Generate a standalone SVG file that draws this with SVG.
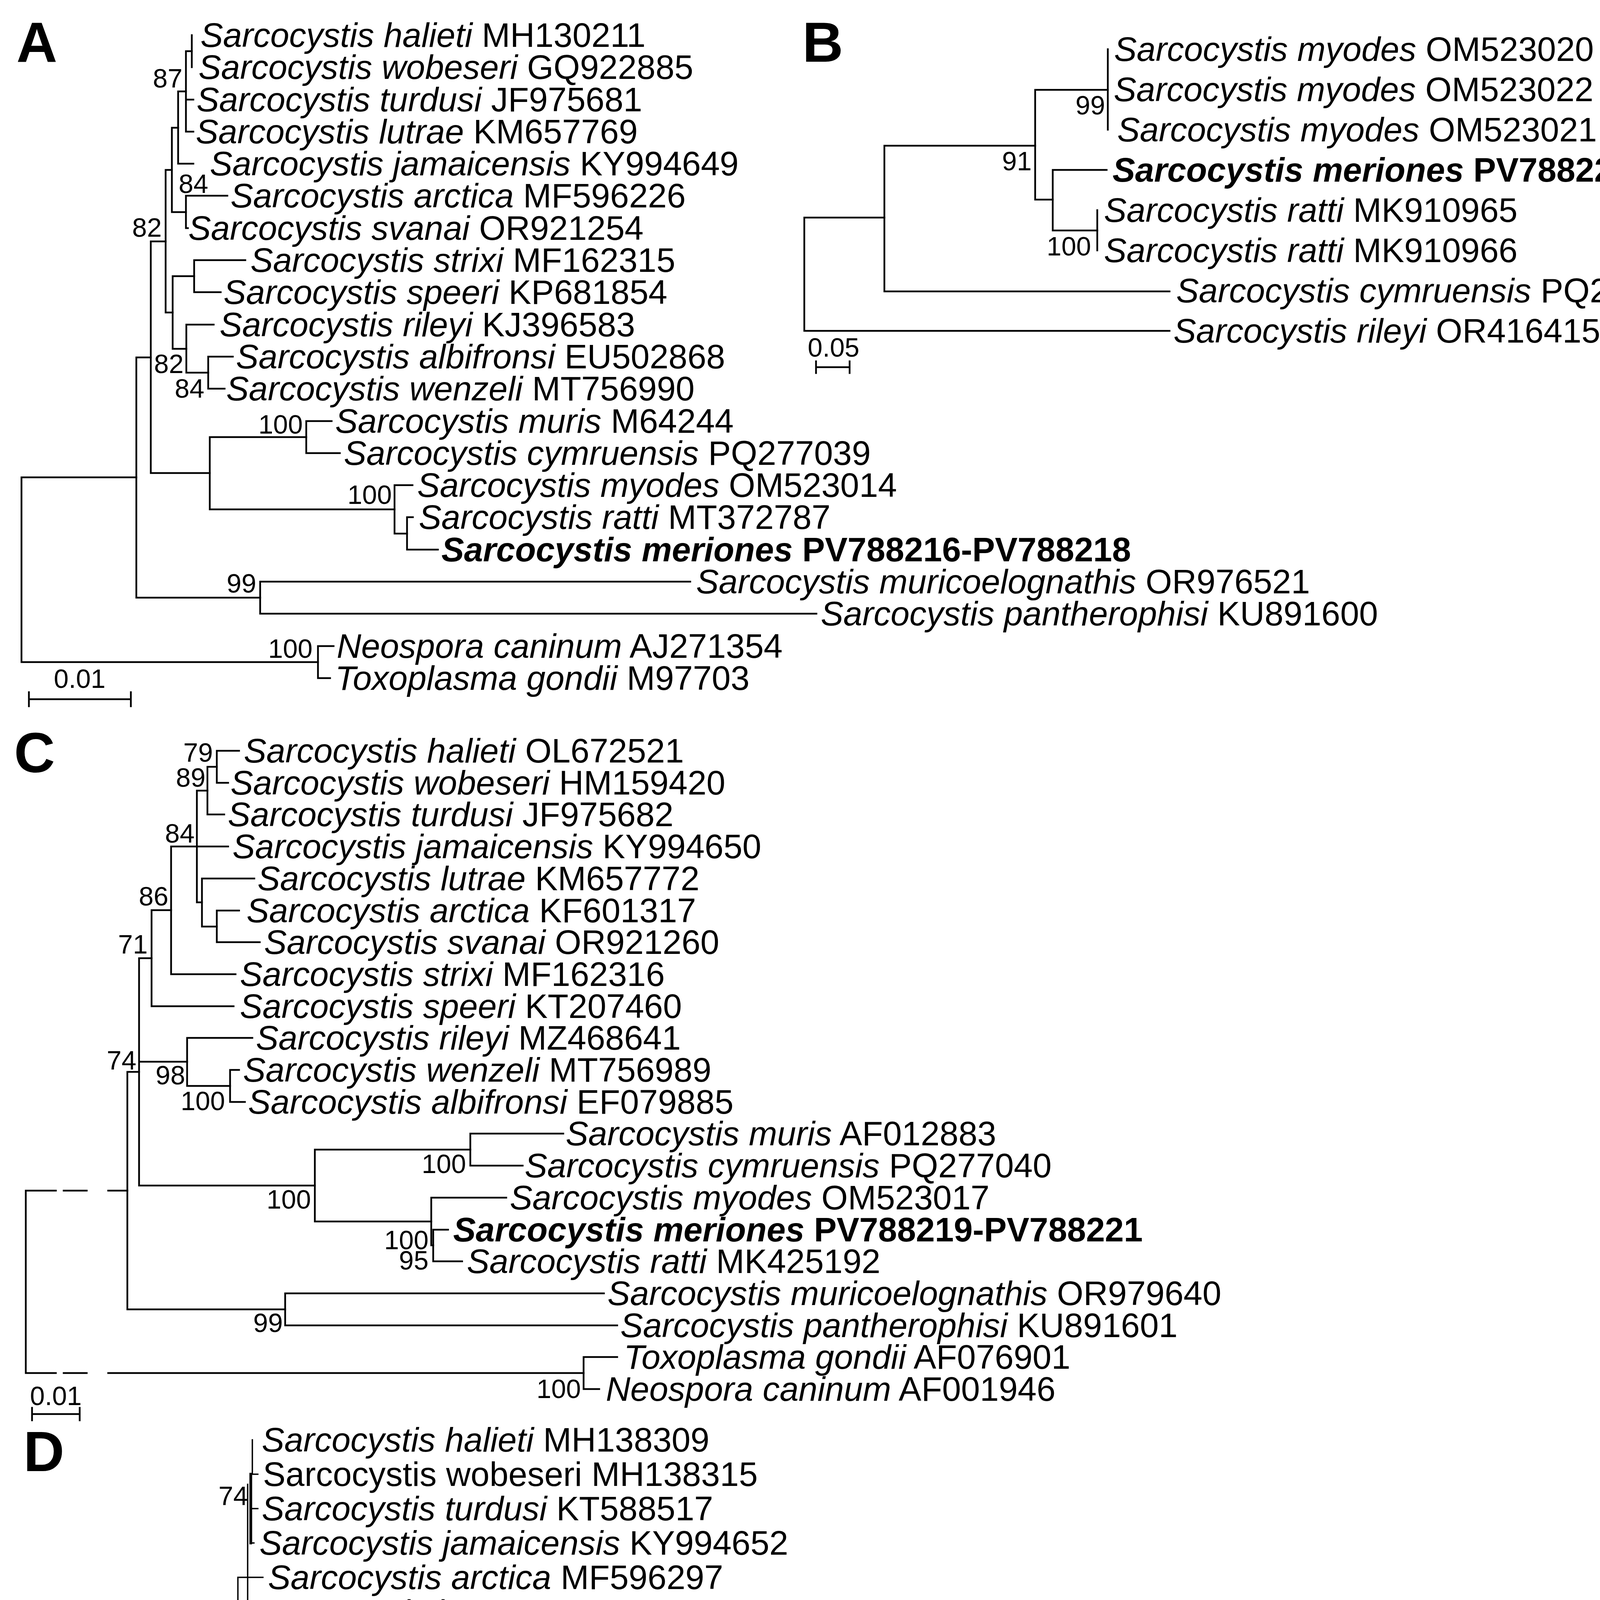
<svg xmlns="http://www.w3.org/2000/svg" width="4407" height="5431" viewBox="0 0 4407 5431">
<style>
text{font-family:"Liberation Sans",Arial,sans-serif;fill:#000}
.t{font-size:87px}
.i{font-style:italic}
.b{font-weight:bold}
.l{font-size:68px;text-anchor:end}
.s{font-size:68px;text-anchor:middle}
.p{font-size:145px;font-weight:bold}
.br path{stroke:#000;stroke-width:4.5;fill:none;stroke-linecap:square}
.brd path{stroke:#000;stroke-width:3.5;fill:none;stroke-linecap:square}
.brd path.k{stroke-width:7}
</style>
<rect width="4407" height="5431" fill="#fff"/>

<!-- ================= PANEL A ================= -->
<g id="panel-A">
<text class="p" x="42" y="158">A</text>
<g id="A-connectors" class="br">
<path d="M491,90 V172"/>
<path d="M476,131 V337 M476,131 H491 M476,255 H495 M476,337 H495"/>
<path d="M456,234 V419 M456,234 H476 M456,419 H495"/>
<path d="M476,501 V584 M476,501 H582 M476,584 H481"/>
<path d="M440,327 V543 M440,327 H456 M440,543 H476"/>
<path d="M497,666 V748 M497,666 H628 M497,748 H565"/>
<path d="M533,913 V995 M533,913 H596 M533,995 H575"/>
<path d="M477,831 V954 M477,831 H547 M477,954 H533"/>
<path d="M442,707 V893 M442,707 H497 M442,893 H477"/>
<path d="M424,435 V800 M424,435 H440 M424,800 H442"/>
<path d="M784,1078 V1160 M784,1078 H849 M784,1160 H870"/>
<path d="M1042,1324 V1407 M1042,1324 H1057 M1042,1407 H1121"/>
<path d="M1010,1242 V1366 M1010,1242 H1056 M1010,1366 H1042"/>
<path d="M537,1119 V1304 M537,1119 H784 M537,1304 H1010"/>
<path d="M386,618 V1211 M386,618 H424 M386,1211 H537"/>
<path d="M666,1489 V1571 M666,1489 H1767 M666,1571 H2090"/>
<path d="M349,915 V1530 M349,915 H386 M349,1530 H666"/>
<path d="M814,1654 V1736 M814,1654 H854 M814,1736 H845"/>
<path d="M55,1222 V1695 M55,1222 H349 M55,1695 H814"/>
<path d="M74,1790 H335 M74,1772 V1808 M335,1772 V1808"/>
</g>
<g id="A-taxa" class="t">
<g id="A-halieti"><text x="513" y="120"><tspan class="i">Sarcocystis halieti</tspan> MH130211</text></g>
<g id="A-wobeseri"><text x="508" y="202"><tspan class="i">Sarcocystis wobeseri</tspan> GQ922885</text></g>
<g id="A-turdusi"><text x="503" y="285"><tspan class="i">Sarcocystis turdusi</tspan> JF975681</text></g>
<g id="A-lutrae"><text x="501" y="367"><tspan class="i">Sarcocystis lutrae</tspan> KM657769</text></g>
<g id="A-jamaicensis"><text x="537" y="449"><tspan class="i">Sarcocystis jamaicensis</tspan> KY994649</text></g>
<g id="A-arctica"><text x="590" y="531"><tspan class="i">Sarcocystis arctica</tspan> MF596226</text></g>
<g id="A-svanai"><text x="482" y="614"><tspan class="i">Sarcocystis svanai</tspan> OR921254</text></g>
<g id="A-strixi"><text x="641" y="696"><tspan class="i">Sarcocystis strixi</tspan> MF162315</text></g>
<g id="A-speeri"><text x="572" y="778"><tspan class="i">Sarcocystis speeri</tspan> KP681854</text></g>
<g id="A-rileyi"><text x="562" y="861"><tspan class="i">Sarcocystis rileyi</tspan> KJ396583</text></g>
<g id="A-albifronsi"><text x="604" y="943"><tspan class="i">Sarcocystis albifronsi</tspan> EU502868</text></g>
<g id="A-wenzeli"><text x="579" y="1025"><tspan class="i">Sarcocystis wenzeli</tspan> MT756990</text></g>
<g id="A-muris"><text x="858" y="1108"><tspan class="i">Sarcocystis muris</tspan> M64244</text></g>
<g id="A-cymruensis"><text x="880" y="1190"><tspan class="i">Sarcocystis cymruensis</tspan> PQ277039</text></g>
<g id="A-myodes"><text x="1068" y="1272"><tspan class="i">Sarcocystis myodes</tspan> OM523014</text></g>
<g id="A-ratti"><text x="1072" y="1354"><tspan class="i">Sarcocystis ratti</tspan> MT372787</text></g>
<g id="A-meriones"><text x="1130" y="1437" class="b"><tspan class="i">Sarcocystis meriones</tspan> PV788216-PV788218</text></g>
<g id="A-muricoelognathis"><text x="1782" y="1519"><tspan class="i">Sarcocystis muricoelognathis</tspan> OR976521</text></g>
<g id="A-pantherophisi"><text x="2101" y="1601"><tspan class="i">Sarcocystis pantherophisi</tspan> KU891600</text></g>
<g id="A-neospora"><text x="862" y="1684"><tspan class="i">Neospora caninum</tspan> AJ271354</text></g>
<g id="A-toxoplasma"><text x="858" y="1766"><tspan class="i">Toxoplasma gondii</tspan> M97703</text></g>
</g>
<g id="A-support">
<text class="l" x="467" y="224">87</text>
<text class="l" x="533" y="494">84</text>
<text class="l" x="414" y="606">82</text>
<text class="l" x="470" y="955">82</text>
<text class="l" x="523" y="1018">84</text>
<text class="l" x="775" y="1110">100</text>
<text class="l" x="1003" y="1290">100</text>
<text class="l" x="656" y="1517">99</text>
<text class="l" x="800" y="1684">100</text>
<text class="s" x="204" y="1761">0.01</text>
</g>
</g>

<!-- ================= PANEL B ================= -->
<g id="panel-B">
<text class="p" x="2054" y="158">B</text>
<g id="B-connectors" class="br">
<path d="M2059,557 V847 M2059,557 H2264 M2059,847 H2994"/>
<path d="M2264,373 V746 M2264,373 H2650 M2264,746 H2994"/>
<path d="M2650,230 V511 M2650,230 H2836 M2650,511 H2695"/>
<path d="M2836,126 V332"/>
<path d="M2695,435 V590 M2695,435 H2833 M2695,590 H2809"/>
<path d="M2809,538 V641"/>
<path d="M2089,940 H2175 M2089,925 V955 M2175,925 V955"/>
</g>
<g id="B-taxa" class="t">
<g id="B-myodes1"><text x="2852" y="156"><tspan class="i">Sarcocystis myodes</tspan> OM523020</text></g>
<g id="B-myodes2"><text x="2851" y="259"><tspan class="i">Sarcocystis myodes</tspan> OM523022</text></g>
<g id="B-myodes3"><text x="2860" y="362"><tspan class="i">Sarcocystis myodes</tspan> OM523021</text></g>
<g id="B-meriones"><text x="2848" y="465" class="b"><tspan class="i">Sarcocystis meriones</tspan> PV788222</text></g>
<g id="B-ratti1"><text x="2826" y="568"><tspan class="i">Sarcocystis ratti</tspan> MK910965</text></g>
<g id="B-ratti2"><text x="2826" y="671"><tspan class="i">Sarcocystis ratti</tspan> MK910966</text></g>
<g id="B-cymruensis"><text x="3011" y="774"><tspan class="i">Sarcocystis cymruensis</tspan> PQ298262</text></g>
<g id="B-rileyi"><text x="3004" y="877"><tspan class="i">Sarcocystis rileyi</tspan> OR416415</text></g>
</g>
<g id="B-support">
<text class="l" x="2829" y="293">99</text>
<text class="l" x="2641" y="436">91</text>
<text class="l" x="2793" y="654">100</text>
<text class="s" x="2134" y="913">0.05</text>
</g>
</g>

<!-- ================= PANEL C ================= -->
<g id="panel-C">
<text class="p" x="36" y="1977">C</text>
<g id="C-connectors" class="br">
<path d="M555,1922 V2004 M555,1922 H612 M555,2004 H584"/>
<path d="M531,1963 V2085 M531,1963 H555 M531,2085 H574"/>
<path d="M504,2024 V2310 M504,2024 H531 M504,2167 H584 M504,2310 H517"/>
<path d="M517,2249 V2372 M517,2249 H651 M517,2372 H555"/>
<path d="M555,2331 V2412 M555,2331 H612 M555,2412 H665"/>
<path d="M438,2167 V2494 M438,2167 H504 M438,2494 H603"/>
<path d="M388,2330 V2576 M388,2330 H438 M388,2576 H598"/>
<path d="M589,2739 V2821 M589,2739 H612 M589,2821 H627"/>
<path d="M479,2657 V2780 M479,2657 H646 M479,2780 H589"/>
<path d="M1204,2902 V2984 M1204,2902 H1442 M1204,2984 H1338"/>
<path d="M1109,3148 V3229 M1109,3148 H1147 M1109,3229 H1183"/>
<path d="M1104,3066 V3188 M1104,3066 H1296 M1104,3188 H1109"/>
<path d="M806,2943 V3127 M806,2943 H1204 M806,3127 H1104"/>
<path d="M356,2453 V3035 M356,2453 H388 M356,2718 H479 M356,3035 H806"/>
<path d="M730,3311 V3393 M730,3311 H1546 M730,3393 H1580"/>
<path d="M326,2744 V3352 M326,2744 H356 M326,3352 H730"/>
<path d="M1494,3474 V3556 M1494,3474 H1580 M1494,3556 H1534"/>
<path d="M66,3048 V3515 M66,3048 H143 M163,3048 H222 M277,3048 H326 M66,3515 H143 M163,3515 H222 M277,3515 H1494"/>
<path d="M82,3620 H204 M82,3604 V3636 M204,3604 V3636"/>
</g>
<g id="C-taxa" class="t">
<g id="C-halieti"><text x="624" y="1952"><tspan class="i">Sarcocystis halieti</tspan> OL672521</text></g>
<g id="C-wobeseri"><text x="590" y="2034"><tspan class="i">Sarcocystis wobeseri</tspan> HM159420</text></g>
<g id="C-turdusi"><text x="583" y="2115"><tspan class="i">Sarcocystis turdusi</tspan> JF975682</text></g>
<g id="C-jamaicensis"><text x="595" y="2197"><tspan class="i">Sarcocystis jamaicensis</tspan> KY994650</text></g>
<g id="C-lutrae"><text x="659" y="2279"><tspan class="i">Sarcocystis lutrae</tspan> KM657772</text></g>
<g id="C-arctica"><text x="631" y="2361"><tspan class="i">Sarcocystis arctica</tspan> KF601317</text></g>
<g id="C-svanai"><text x="676" y="2442"><tspan class="i">Sarcocystis svanai</tspan> OR921260</text></g>
<g id="C-strixi"><text x="614" y="2524"><tspan class="i">Sarcocystis strixi</tspan> MF162316</text></g>
<g id="C-speeri"><text x="614" y="2606"><tspan class="i">Sarcocystis speeri</tspan> KT207460</text></g>
<g id="C-rileyi"><text x="655" y="2687"><tspan class="i">Sarcocystis rileyi</tspan> MZ468641</text></g>
<g id="C-wenzeli"><text x="622" y="2769"><tspan class="i">Sarcocystis wenzeli</tspan> MT756989</text></g>
<g id="C-albifronsi"><text x="635" y="2851"><tspan class="i">Sarcocystis albifronsi</tspan> EF079885</text></g>
<g id="C-muris"><text x="1448" y="2932"><tspan class="i">Sarcocystis muris</tspan> AF012883</text></g>
<g id="C-cymruensis"><text x="1343" y="3014"><tspan class="i">Sarcocystis cymruensis</tspan> PQ277040</text></g>
<g id="C-myodes"><text x="1305" y="3096"><tspan class="i">Sarcocystis myodes</tspan> OM523017</text></g>
<g id="C-meriones"><text x="1160" y="3178" class="b"><tspan class="i">Sarcocystis meriones</tspan> PV788219-PV788221</text></g>
<g id="C-ratti"><text x="1195" y="3259"><tspan class="i">Sarcocystis ratti</tspan> MK425192</text></g>
<g id="C-muricoelognathis"><text x="1555" y="3341"><tspan class="i">Sarcocystis muricoelognathis</tspan> OR979640</text></g>
<g id="C-pantherophisi"><text x="1588" y="3423"><tspan class="i">Sarcocystis pantherophisi</tspan> KU891601</text></g>
<g id="C-toxoplasma"><text x="1597" y="3504"><tspan class="i">Toxoplasma gondii</tspan> AF076901</text></g>
<g id="C-neospora"><text x="1551" y="3586"><tspan class="i">Neospora caninum</tspan> AF001946</text></g>
</g>
<g id="C-support">
<text class="l" x="545" y="1950">79</text>
<text class="l" x="526" y="2014">89</text>
<text class="l" x="498" y="2157">84</text>
<text class="l" x="431" y="2318">86</text>
<text class="l" x="378" y="2441">71</text>
<text class="l" x="349" y="2738">74</text>
<text class="l" x="474" y="2776">98</text>
<text class="l" x="576" y="2842">100</text>
<text class="l" x="1193" y="3003">100</text>
<text class="l" x="796" y="3094">100</text>
<text class="l" x="1097" y="3198">100</text>
<text class="l" x="1097" y="3250">95</text>
<text class="l" x="724" y="3410">99</text>
<text class="l" x="1487" y="3579">100</text>
<text class="s" x="143" y="3597">0.01</text>
</g>
</g>

<!-- ================= PANEL D ================= -->
<g id="panel-D">
<text class="p" x="60" y="3766">D</text>
<g id="D-connectors" class="brd">
<path d="M646,3686 V3774 M646,3774 H660"/>
<path class="k" d="M642,3774 V3950"/>
<path d="M642,3862 H660 M642,3950 H650"/>
<path d="M634,3800 V4215"/>
<path d="M609,4038 V4303 M609,4038 H673 M609,4303 H619"/>
<path d="M593,4170 V4391 M593,4170 H609 M593,4391 H622"/>
<path class="k" d="M586,4281 V4553"/>
<path d="M586,4553 H711"/>
<path d="M711,4479 V4635 M711,4479 H864 M711,4635 H855"/>
<path d="M855,4567 V4699 M855,4567 H868 M855,4699 H879"/>
<path d="M879,4655 V4743 M879,4655 H900 M879,4743 H887"/>
<path d="M579,4417 V4898 M579,4898 H673"/>
<path d="M673,4831 V4960 M673,4831 H715 M673,4960 H769"/>
<path d="M769,4919 V5008 M769,4919 H775 M769,5008 H855"/>
<path d="M510,4658 V5096 M510,4658 H579 M510,5096 H530"/>
<path d="M341,4877 V5184 M341,4877 H510 M341,5184 H490"/>
<path d="M57,5030 V5316 M57,5030 H137 M185,5030 H252 M306,5030 H341 M57,5316 H137 M185,5316 H252 M306,5316 H595"/>
<path d="M595,5272 V5360 M595,5272 H896 M595,5360 H849"/>
<path d="M64,5409 H360 M64,5387 V5431 M360,5387 V5431"/>
</g>
<g id="D-taxa" class="t">
<g id="D-halieti"><text x="670" y="3716"><tspan class="i">Sarcocystis halieti</tspan> MH138309</text></g>
<g id="D-wobeseri"><text x="673" y="3804">Sarcocystis wobeseri MH138315</text></g>
<g id="D-turdusi"><text x="670" y="3892"><tspan class="i">Sarcocystis turdusi</tspan> KT588517</text></g>
<g id="D-jamaicensis"><text x="664" y="3980"><tspan class="i">Sarcocystis jamaicensis</tspan> KY994652</text></g>
<g id="D-arctica"><text x="686" y="4068"><tspan class="i">Sarcocystis arctica</tspan> MF596297</text></g>
<g id="D-lutrae"><text x="648" y="4157"><tspan class="i">Sarcocystis lutrae</tspan> MG273669</text></g>
<g id="D-svanai"><text x="648" y="4245"><tspan class="i">Sarcocystis svanai</tspan> OR939976</text></g>
<g id="D-strixi"><text x="625" y="4333"><tspan class="i">Sarcocystis strixi</tspan> MF162317</text></g>
<g id="D-speeri"><text x="635" y="4421"><tspan class="i">Sarcocystis speeri</tspan> KT207461</text></g>
<g id="D-cymruensis"><text x="874" y="4509"><tspan class="i">Sarcocystis cymruensis</tspan> PQ297885</text></g>
<g id="D-myodes"><text x="881" y="4597"><tspan class="i">Sarcocystis myodes</tspan> OM486937</text></g>
<g id="D-meriones"><text x="910" y="4685" class="b"><tspan class="i">Sarcocystis meriones</tspan> PV786926-8</text></g>
<g id="D-ratti"><text x="899" y="4773"><tspan class="i">Sarcocystis ratti</tspan> MT407374</text></g>
<g id="D-rileyi"><text x="727" y="4861"><tspan class="i">Sarcocystis rileyi</tspan> OR423018</text></g>
<g id="D-albifronsi"><text x="792" y="4949"><tspan class="i">Sarcocystis albifronsi</tspan> MH138310</text></g>
<g id="D-wenzeli"><text x="868" y="5038"><tspan class="i">Sarcocystis wenzeli</tspan> MT761700</text></g>
<g id="D-pantherophisi"><text x="537" y="5126"><tspan class="i">Sarcocystis pantherophisi</tspan> KU891603</text></g>
<g id="D-muricoelognathis"><text x="501" y="5214"><tspan class="i">Sarcocystis muricoelognathis</tspan> PP033596</text></g>
<g id="D-neospora"><text x="903" y="5302"><tspan class="i">Neospora caninum</tspan> JX473252</text></g>
<g id="D-toxoplasma"><text x="859" y="5390"><tspan class="i">Toxoplasma gondii</tspan> KT363924</text></g>
</g>
<g id="D-support">
<text class="l" x="635" y="3853">74</text>
<text class="l" x="600" y="4162">92</text>
<text class="l" x="701" y="4620">77</text>
<text class="l" x="848" y="4696">98</text>
<text class="l" x="870" y="4762">86</text>
<text class="l" x="665" y="4962">99</text>
<text class="l" x="759" y="5021">99</text>
<text class="l" x="581" y="5376">100</text>
<text class="s" x="218" y="5379">0.05</text>
</g>
</g>
</svg>
